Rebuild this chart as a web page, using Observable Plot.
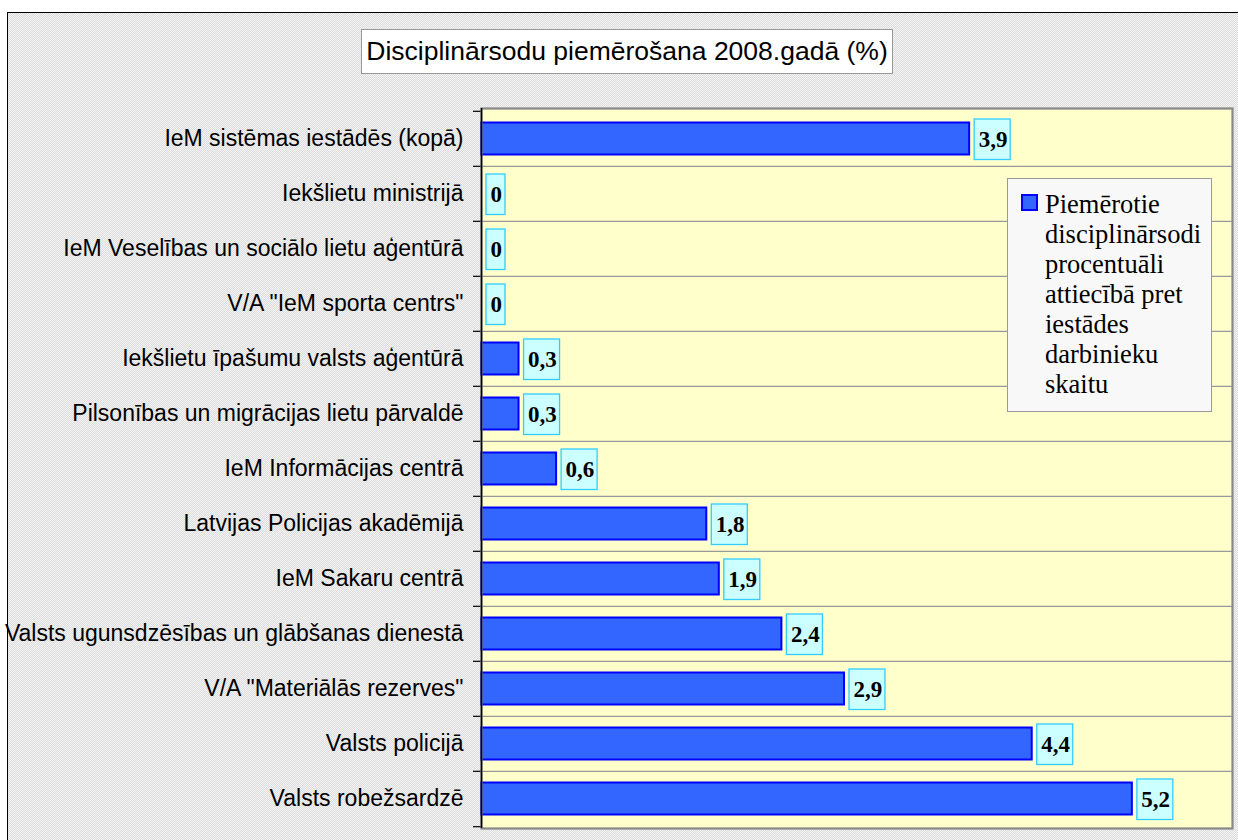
<!DOCTYPE html>
<html>
<head>
<meta charset="utf-8">
<script src="https://cdn.jsdelivr.net/npm/d3@7"></script>
<script src="https://cdn.jsdelivr.net/npm/@observablehq/plot@0.6"></script>
<style>
  html, body { margin: 0; padding: 0; background: #fff; }
  body { width: 1238px; height: 840px; overflow: hidden; position: relative; }
  #outer {
    position: absolute; left: 7px; top: 12px; width: 1250px; height: 850px;
    border: 1px solid #000;
    background-color: #e8e8e8;
    background-image: conic-gradient(#f3f3f3 25%, #dddddd 0 50%, #f3f3f3 0 75%, #dddddd 0);
    background-size: 2px 2px;
  }
  #chart { position: absolute; left: 0; top: 0; }
  #title {
    position: absolute; left: 361px; top: 29px; width: 532px; height: 45px; box-sizing: border-box;
    border: 1px solid #999; background: #fff;
    font-family: "Liberation Sans", Arial, sans-serif; font-size: 26.5px; color: #000;
    display: flex; align-items: center; justify-content: center; white-space: nowrap;
  }
  #legend {
    position: absolute; left: 1007px; top: 178px; width: 205px; height: 234px; box-sizing: border-box;
    border: 1px solid #999; background: #f8f8f8;
    font-family: "Liberation Serif", "Times New Roman", serif; font-size: 26.5px; line-height: 30px; color: #000;
  }
  #legend .sw {
    position: absolute; left: 13px; top: 15px; width: 17px; height: 17px; box-sizing: border-box;
    background: #3366ff; border: 2px solid #0000ff;
  }
  #legend .tx { position: absolute; left: 37px; top: 10px; white-space: nowrap; }
</style>
</head>
<body>
<div id="outer"></div>
<div id="chart"></div>
<div id="title">Disciplinārsodu piemērošana 2008.gadā (%)</div>
<div id="legend"><div class="sw"></div><div class="tx" id="legendText"></div></div>
<script>
const categories = [
  "IeM sistēmas iestādēs (kopā)",
  "Iekšlietu ministrijā",
  "IeM Veselības un sociālo lietu aģentūrā",
  "V/A \"IeM sporta centrs\"",
  "Iekšlietu īpašumu valsts aģentūrā",
  "Pilsonības un migrācijas lietu pārvaldē",
  "IeM Informācijas centrā",
  "Latvijas Policijas akadēmijā",
  "IeM Sakaru centrā",
  "Valsts ugunsdzēsības un glābšanas dienestā",
  "V/A \"Materiālās rezerves\"",
  "Valsts policijā",
  "Valsts robežsardzē"
];
const values = [3.9, 0, 0, 0, 0.3, 0.3, 0.6, 1.8, 1.9, 2.4, 2.9, 4.4, 5.2];
const seriesName = ["Piemērotie", "disciplinārsodi", "procentuāli", "attiecībā pret", "iestādes", "darbinieku", "skaitu"];
const xDomain = [0, 6];

document.getElementById("legendText").innerHTML = seriesName.join("<br>");

const data = categories.map((name, i) => ({
  name, value: values[i], label: String(values[i]).replace(".", ",")
}));

const W = 1238, H = 840, mT = 108, mB = 12, mL = 481, mR = 6;
const step = (H - mT - mB) / categories.length;

const boxStyle = {fill: "#ccffff", stroke: "#33ccff", strokeWidth: 1.3, insetTop: 8, insetBottom: 6.5};

const chart = Plot.plot({
  width: W, height: H,
  marginTop: mT, marginBottom: mB, marginLeft: mL, marginRight: mR,
  style: {background: "transparent", fontFamily: "'Liberation Sans', Arial, sans-serif", fontSize: "23px", color: "#000", overflow: "visible"},
  x: {domain: xDomain, axis: null},
  y: {domain: categories, padding: 0, axis: null},
  marks: [
    Plot.frame({fill: "#ffffcc"}),
    Plot.ruleY(categories.slice(1), {y: d => d, dy: -step / 2, stroke: "#999", strokeWidth: 1.2}),
    Plot.ruleY(categories, {y: d => d, dy: -step / 2, x1: () => 0, x2: () => 0, insetLeft: -8, stroke: "#000", strokeWidth: 1.2}),
    Plot.ruleY(categories.slice(-1), {y: d => d, dy: step / 2, x1: () => 0, x2: () => 0, insetLeft: -8, stroke: "#000", strokeWidth: 1.2}),
    Plot.barX(data.filter(d => d.value > 0), {x: "value", y: "name", fill: "#3366ff", stroke: "#0000ff", strokeWidth: 2, insetTop: 11.5, insetBottom: 11.5}),
    Plot.barX(data.filter(d => d.label.length === 1), {x1: "value", x2: "value", y: "name", insetLeft: 5, insetRight: -24, ...boxStyle}),
    Plot.barX(data.filter(d => d.label.length > 1), {x1: "value", x2: "value", y: "name", insetLeft: 5, insetRight: -41, ...boxStyle}),
    Plot.text(data, {x: "value", y: "name", text: "label", dx: 9, dy: 1, textAnchor: "start", fontFamily: "'Liberation Serif', 'Times New Roman', serif", fontWeight: "bold", fontSize: 23, fill: "#000"}),
    Plot.frame({stroke: "#888", strokeWidth: 2.2}),
    Plot.ruleX([0], {stroke: "#000", strokeWidth: 1.5}),
    Plot.axisY({tickSize: 0, tickPadding: 18, label: null, fill: "#000"})
  ]
});
document.getElementById("chart").appendChild(chart);
</script>
</body>
</html>
